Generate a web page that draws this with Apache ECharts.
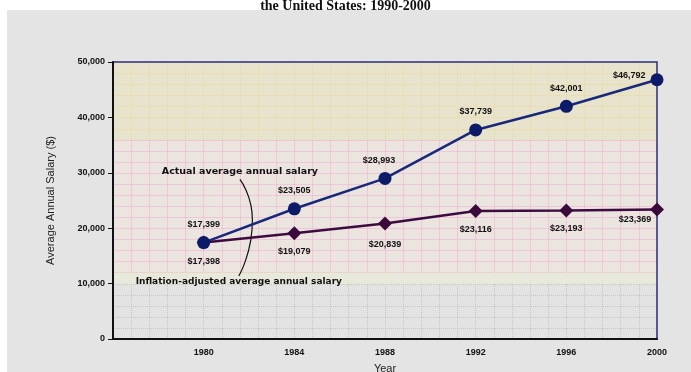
<!DOCTYPE html>
<html>
<head>
<meta charset="utf-8">
<script src="https://cdn.jsdelivr.net/npm/echarts@6/dist/echarts.min.js"></script>
<style>
  html, body { margin: 0; padding: 0; background: #fff; }
  #chart { width: 691px; height: 372px; }
</style>
</head>
<body>
<div id="chart"></div>
<script>
// data
const years = [1980, 1984, 1988, 1992, 1996, 2000];
const actualSalary = [17399, 23505, 28993, 37739, 42001, 46792];
const adjustedSalary = [17398, 19079, 20839, 23116, 23193, 23369];
const yTicks = [0, 10000, 20000, 30000, 40000, 50000];
const xTicks = [1980, 1984, 1988, 1992, 1996, 2000];

// leader line between the two series notes
const leaderLine = [[1981.6, 28800], [1982.15, 21500], [1981.55, 11400]];
const actualNote = 'Actual average annual salary';
const adjustedNote = 'Inflation-adjusted average annual salary';

const chart = echarts.init(document.getElementById('chart'));

const fmt = (v) => '$' + v.toLocaleString('en-US');
const labelFont = { fontFamily: 'Liberation Sans', fontSize: 9, fontWeight: 'bold', color: '#111' };
const noteFont = { fontFamily: 'DejaVu Sans', fontWeight: 'bold', color: '#111' };

// background bands (each its own grid so the grid lines change colour)
const bands = [
  { top: 62, height: 78, min: 36000, max: 50000, bg: '#e8e3cc', line: 'rgba(232,214,110,0.5)', type: 'dotted' },
  { top: 140, height: 132, min: 12000, max: 36000, bg: '#ebe4df', line: 'rgba(240,175,215,0.55)', type: 'solid' },
  { top: 272, height: 12, min: 10000, max: 12000, bg: '#e7e9dc', line: 'rgba(225,235,170,0.6)', type: 'dotted' },
  { top: 284, height: 55, min: 0, max: 10000, bg: '#e3e3e3', line: 'rgba(170,170,170,0.5)', type: 'dotted' },
];

const grids = [];
const xAxes = [];
const yAxes = [];
const series = [];

bands.forEach((b, i) => {
  grids.push({ left: 113, right: 34, top: b.top, height: b.height, show: true,
    outerBoundsMode: 'none', containLabel: false,
    backgroundColor: b.bg, borderWidth: 0, z: 0 });
  xAxes.push({ gridIndex: i, type: 'value', min: 1976, max: 2000, interval: 0.8,
    axisLine: { show: false }, axisTick: { show: false }, axisLabel: { show: false },
    splitLine: { show: true, lineStyle: { color: b.line, width: 1, type: b.type } } });
  yAxes.push({ gridIndex: i, type: 'value', min: b.min, max: b.max, interval: 2000,
    axisLine: { show: false }, axisTick: { show: false }, axisLabel: { show: false },
    splitLine: { show: true, lineStyle: { color: b.line, width: 1, type: b.type } } });
});

const main = bands.length;
grids.push({ left: 113, right: 34, top: 62, bottom: 33, show: true,
  outerBoundsMode: 'none', containLabel: false,
  backgroundColor: 'transparent', borderColor: '#2b2f7a', borderWidth: 1.5, z: 2 });
xAxes.push({
  gridIndex: main, type: 'value', min: 1976, max: 2000, interval: 4,
  name: 'Year', nameLocation: 'middle', nameGap: 24,
  nameTextStyle: { fontFamily: 'Liberation Sans', fontSize: 11, color: '#222' },
  axisLine: { show: true, lineStyle: { color: '#111', width: 2 } },
  axisTick: { show: false },
  axisLabel: { ...labelFont, margin: 9,
    formatter: (v) => (xTicks.includes(v) ? String(v) : '') },
  splitLine: { show: false }, z: 3,
});
yAxes.push({
  gridIndex: main, type: 'value', min: 0, max: 50000, interval: 10000,
  name: 'Average Annual Salary ($)', nameLocation: 'middle', nameGap: 57,
  nameTextStyle: { fontFamily: 'Liberation Sans', fontSize: 11, color: '#222' },
  axisLine: { show: true, lineStyle: { color: '#111', width: 2 } },
  axisTick: { show: true, inside: false, length: 5, lineStyle: { color: '#111' } },
  axisLabel: { ...labelFont, margin: 8,
    formatter: (v) => (yTicks.includes(v) ? v.toLocaleString('en-US') : '') },
  splitLine: { show: false }, z: 3,
});

const actualLabel = [
  { position: 'top', distance: 7 },
  { position: 'top', distance: 7 },
  { position: 'top', distance: 7, offset: [-6, 0] },
  { position: 'top', distance: 7 },
  { position: 'top', distance: 7 },
  { position: 'left', distance: 5, offset: [0, -4] },
];
const adjustedLabel = [
  { position: 'bottom', distance: 7 },
  { position: 'bottom', distance: 7 },
  { position: 'bottom', distance: 9 },
  { position: 'bottom', distance: 7 },
  { position: 'bottom', distance: 7 },
  { position: 'bottom', distance: 0, offset: [-22, -2] },
];

series.push({
  name: 'Actual', type: 'line', xAxisIndex: main, yAxisIndex: main,
  data: years.map((y, i) => ({ value: [y, actualSalary[i]], label: actualLabel[i] })),
  symbol: 'circle', symbolSize: 13,
  lineStyle: { color: '#18287a', width: 2.5 },
  itemStyle: { color: '#0c1a68' },
  label: { show: true, ...labelFont, formatter: (p) => fmt(p.value[1]) },
  z: 5,
});
series.push({
  name: 'Adjusted', type: 'line', xAxisIndex: main, yAxisIndex: main,
  data: years.map((y, i) => ({ value: [y, adjustedSalary[i]], label: adjustedLabel[i] })),
  symbol: 'diamond', symbolSize: 14,
  lineStyle: { color: '#3e0b40', width: 2.5 },
  itemStyle: { color: '#3a0a3c' },
  label: { show: true, ...labelFont, formatter: (p) => fmt(p.value[1]) },
  z: 4,
});
series.push({
  name: 'leader', type: 'line', xAxisIndex: main, yAxisIndex: main,
  data: leaderLine.map((p, i) => {
    const d = { value: p };
    if (i === 0) d.label = { show: true, position: 'top', distance: 2, offset: [6, 0], fontSize: 9.5, formatter: actualNote };
    if (i === leaderLine.length - 1) d.label = { show: true, position: 'bottom', distance: 1, offset: [-3, 0], fontSize: 9, formatter: adjustedNote };
    return d;
  }),
  smooth: 0.6, symbol: 'circle', symbolSize: 1, showSymbol: true,
  itemStyle: { color: 'rgba(0,0,0,0)' },
  lineStyle: { color: '#111', width: 1.2 },
  label: { show: false, ...noteFont },
  labelLayout: { hideOverlap: false },
  z: 3, silent: true,
});

chart.setOption({
  animation: false,
  backgroundColor: '#ffffff',
  title: {
    text: 'the United States: 1990-2000', left: 'center', top: -6,
    textStyle: { fontFamily: 'Liberation Serif', fontSize: 14, fontWeight: 'bold', color: '#111' },
  },
  graphic: [{
    type: 'rect', left: 7, top: 10, z: -10,
    shape: { width: 684, height: 362 },
    style: { fill: '#e4e4e4' },
  }],
  grid: grids,
  xAxis: xAxes,
  yAxis: yAxes,
  series: series,
});
</script>
</body>
</html>
